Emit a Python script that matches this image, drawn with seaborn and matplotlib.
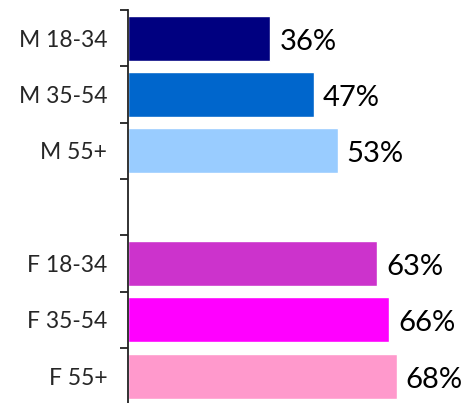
import matplotlib
matplotlib.use("Agg")
import matplotlib.pyplot as plt
import seaborn as sns
import numpy as np
import pandas as pd

# dados
grupos = ["M 18-34", "M 35-54", "M 55+", "F 18-34", "F 35-54", "F 55+"]
valores = [36, 47, 53, 63, 66, 68]
cores = ["#000080", "#0066CC", "#99CCFF", "#CC33CC", "#FF00FF", "#FF99CC"]

# ordem com um espaco vazio entre homens e mulheres
ordem = ["M 18-34", "M 35-54", "M 55+", " ", "F 18-34", "F 35-54", "F 55+"]

df = pd.DataFrame({"grupo": grupos, "valor": valores})

sns.set_style("white")
plt.rcParams["font.family"] = ["Lato", "DejaVu Sans"]

fig = plt.figure(figsize=(4.64, 4.03), dpi=100)
ax = fig.add_axes([128 / 464, -0.003, 1 - 128 / 464, 0.978])

sns.barplot(data=df, x="valor", y="grupo", order=ordem, hue="grupo",
            palette=dict(zip(grupos, cores)), width=0.8, saturation=1,
            legend=False, ax=ax)

# rotulo de percentual em cada barra
for bars in ax.containers:
    anns = ax.bar_label(bars, labels=[f"{bar.get_width():.0f}%" for bar in bars],
                        padding=6.5, fontsize=21, color="black")
    # descer um pouco o texto
    for a in anns:
        a.xyann = (6.5, -2.5)

ax.set_xlim(0, 85)
ax.set_ylim(len(ordem) - 0.5, -0.5)

# ticks nas divisoes, rotulos no centro
ax.set_yticks(np.arange(len(ordem) + 1) - 0.5)
ax.set_yticklabels([])
ax.set_yticks(np.arange(len(ordem)), minor=True)
ax.set_yticklabels(ordem, minor=True, fontsize=16.5)
ax.tick_params(axis="y", which="major", left=True, length=5.5, width=1.3, color="#222222")
ax.tick_params(axis="y", which="minor", left=True, length=0, pad=15)

# descer um pouco os rotulos das categorias
for lbl in ax.get_yticklabels(minor=True):
    lbl.set_y(lbl.get_position()[1])
    lbl.set_va("center_baseline")

ax.set_xlabel("")
ax.set_ylabel("")
ax.set_xticks([])

for side in ["top", "right", "bottom"]:
    ax.spines[side].set_visible(False)
ax.spines["left"].set_color("#222222")
ax.spines["left"].set_linewidth(1.3)

fig.savefig("out.png", dpi=100)
